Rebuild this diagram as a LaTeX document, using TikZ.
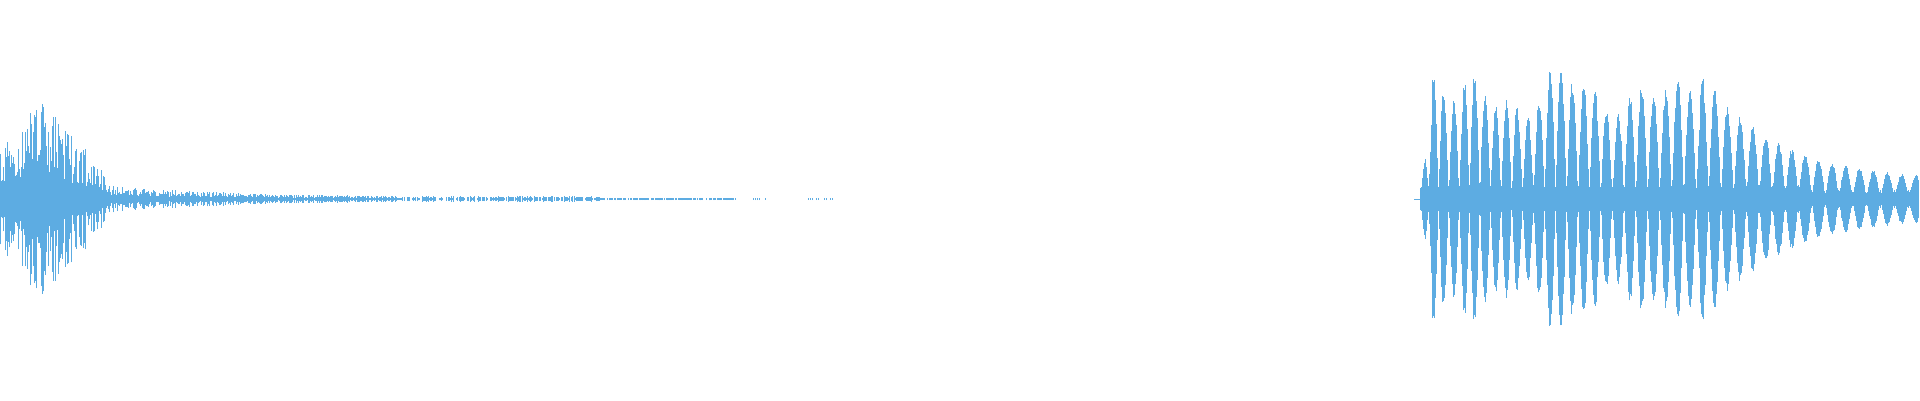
\documentclass[tikz,border=0pt]{standalone}
\begin{document}
\definecolor{wave}{RGB}{93,172,226}
\begin{tikzpicture}[x=1pt,y=1pt,wav/.style={draw=wave,line width=1.05pt}]
\useasboundingbox (0,0) rectangle (1920,400);
\pgfmathsetseed{7}
% left decaying burst
\foreach \x in {0,...,400}{
  \pgfmathsetmacro\e{\x<40 ? 50+1.25*\x : (\x<110 ? 100-1.1*(\x-40) : 12*exp(-(\x-110)/120)+2)}
  \pgfmathsetmacro\h{\e*(0.25+0.75*rnd)}
  \draw[wav] (\x+0.5,201-\h) -- (\x+0.5,201+\h);
}
% faint tail
\foreach \x in {401,...,735,753,755,...,765,808,810,...,833}{
  \pgfmathtruncatemacro\ok{rnd>0.25}
  \ifnum\ok=1
    \pgfmathsetmacro\h{(\x<600 ? 1.2+1.8*rnd : 0.7+0.6*rnd)}
    \draw[wav,line width=0.8pt] (\x+0.5,201-\h) -- (\x+0.5,201+\h);
  \fi
}
% right burst
\draw[wav,line width=0.8pt] (1414,201) -- (1420,201);
\foreach \x in {1420,...,1918}{
  \pgfmathsetmacro\e{\x<1432 ? 10+(\x-1420)*9 : (\x<1700 ? 130+15*sin(3*(\x-1418)) : 18+112*exp(-(\x-1700)/75))}
  \pgfmathsetmacro\m{\x<1800 ? 11 : 6}
  \pgfmathsetmacro\ph{(\x-1418)/(10+(\x-1418)/250)*180}
  \pgfmathsetmacro\v{\x<1700 ? 0.85+0.17*sin(\ph*0.41+30)*sin(\ph*0.13) : 1}
  \pgfmathsetmacro\h{max(\e*\v*abs(sin(\ph))*(0.88+0.12*rnd),\m+3*rnd)}
  \draw[wav] (\x+0.5,201-\h) -- (\x+0.5,201+\h);
}
\end{tikzpicture}
\end{document}
